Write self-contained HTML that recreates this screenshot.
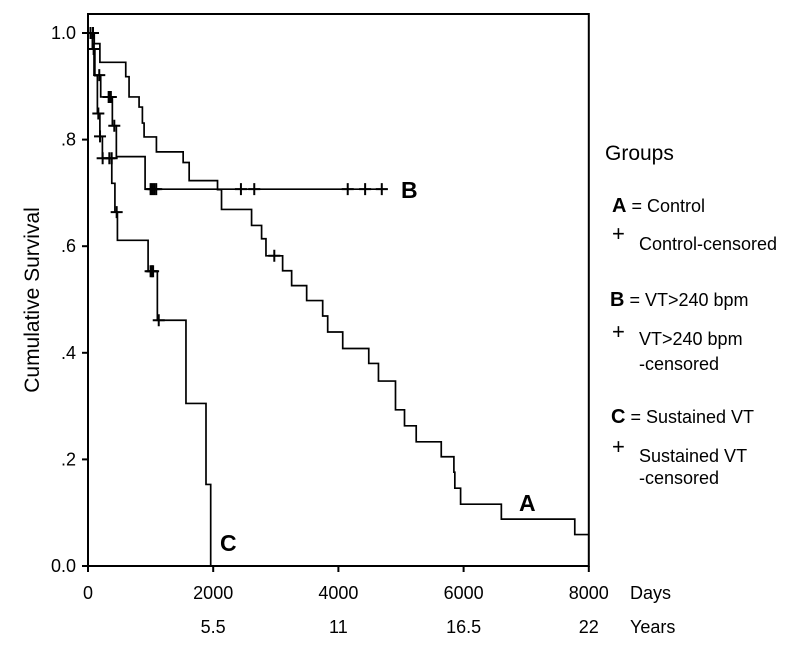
<!DOCTYPE html>
<html><head><meta charset="utf-8"><style>
body{margin:0;background:#fff;}
svg{display:block;font-family:"Liberation Sans",Arial,sans-serif;}
</style></head><body>
<svg id="chart" width="800" height="650" viewBox="0 0 800 650">
<rect x="0" y="0" width="800" height="650" fill="#fff"/>
<g id="marks"></g>
<g id="axes"></g>
<text transform="translate(39,300) rotate(-90)" text-anchor="middle" font-size="21">Cumulative Survival</text>
<text x="401" y="198" font-size="23" font-weight="bold">B</text>
<text x="519" y="511" font-size="23" font-weight="bold">A</text>
<text x="220" y="551" font-size="23" font-weight="bold">C</text>
<text x="630" y="599" font-size="18">Days</text>
<text x="630" y="633" font-size="18">Years</text>
<g font-size="18">
<text x="605" y="160" font-size="21">Groups</text>
<text x="612" y="212"><tspan font-weight="bold" font-size="20">A</tspan> = Control</text>
<text x="612" y="241" font-size="22">+</text>
<text x="639" y="250">Control-censored</text>
<text x="610" y="306"><tspan font-weight="bold" font-size="20">B</tspan> = VT&gt;240 bpm</text>
<text x="612" y="339" font-size="22">+</text>
<text x="639" y="345">VT&gt;240 bpm</text>
<text x="639" y="370">-censored</text>
<text x="611" y="423"><tspan font-weight="bold" font-size="20">C</tspan> = Sustained VT</text>
<text x="612" y="454" font-size="22">+</text>
<text x="639" y="462">Sustained VT</text>
<text x="639" y="484">-censored</text>
</g>
</svg>
<script>
const xTicks=[0,2000,4000,6000,8000];
const yearLabels=["","5.5","11","16.5","22"];
const yTicks=[0,0.2,0.4,0.6,0.8,1.0];
const yTickLabels=["0.0",".2",".4",".6",".8","1.0"];
const aTimes=[0,100,190,603,656,816,869,896,1093,1520,1616,2069,2133,2613,2773,2843,3109,3253,3493,3749,3829,4069,4485,4640,4912,5056,5243,5643,5845,5860,5952,6603,7776];
const aSurv=[1,0.98,0.945,0.918,0.88,0.861,0.831,0.805,0.777,0.757,0.723,0.706,0.669,0.639,0.614,0.582,0.554,0.526,0.498,0.469,0.439,0.408,0.380,0.347,0.293,0.263,0.233,0.205,0.176,0.146,0.116,0.088,0.059];
const aEnd=8000;
const aCensT=[40,2976];
const bTimes=[0,96,203,389,453,912];
const bSurv=[1,0.921,0.88,0.826,0.768,0.707];
const bEnd=4789;
const bCensT=[80,180,330,347,365,420,1000,1030,1060,1090,2443,2656,4149,4427,4693];
const cTimes=[0,70,110,150,190,230,380,430,470,960,1108,1565,1885,1960];
const cSurv=[1,0.97,0.92,0.849,0.806,0.765,0.718,0.664,0.611,0.553,0.461,0.305,0.153,0];
const cEnd=1960;
const cCensT=[90,165,192,234,341,378,458,1000,1020,1040,1130];
const NS='http://www.w3.org/2000/svg';
const X=d=>88+d*0.0626;
const Y=v=>566-v*533;
const marks=document.getElementById('marks');
const axes=document.getElementById('axes');
function mk(tag,attrs,parent){const e=document.createElementNS(NS,tag);for(const k in attrs)e.setAttribute(k,attrs[k]);parent.appendChild(e);return e;}
function survAt(ts,ss,t){let v=ss[0];for(let i=0;i<ts.length;i++){if(ts[i]<=t)v=ss[i];}return v;}
function drawCurve(name,ts,ss,end,cens){
  let d='M'+X(ts[0])+','+Y(ss[0]);
  for(let i=1;i<ts.length;i++){d+=' H'+X(ts[i])+' V'+Y(ss[i]);}
  d+=' H'+X(end);
  const p=mk('path',{d:d,fill:'none',stroke:'#000','stroke-width':1.7},marks);
  
  
  cens.forEach(t=>{
    const v=survAt(ts,ss,t);
    const c=mk('path',{d:'M'+(X(t)-6)+','+Y(v)+' h12 M'+X(t)+','+(Y(v)-6)+' v12',stroke:'#000','stroke-width':2},marks);
    
    
  });
}
drawCurve('group-a',aTimes,aSurv,aEnd,aCensT);
drawCurve('group-b',bTimes,bSurv,bEnd,bCensT);
drawCurve('group-c',cTimes,cSurv,cEnd,cCensT);
const frame=mk('rect',{x:X(0),y:14,width:X(8000)-X(0),height:566-14,fill:'none',stroke:'#000','stroke-width':2},axes);


xTicks.forEach((t,i)=>{
  const l=mk('line',{x1:X(t),x2:X(t),y1:566,y2:572,stroke:'#000','stroke-width':2},axes);
  
  
  const tx=mk('text',{x:X(t),y:599,'text-anchor':'middle','font-size':18},axes);
  tx.textContent=String(t);
  
  
  if(yearLabels[i]){
    const ty=mk('text',{x:X(t),y:633,'text-anchor':'middle','font-size':18},axes);
    ty.textContent=yearLabels[i];
    
    
  }
});
yTicks.forEach((v,i)=>{
  const l=mk('line',{x1:X(0)-6,x2:X(0),y1:Y(v),y2:Y(v),stroke:'#000','stroke-width':2},axes);
  
  
  const tx=mk('text',{x:76,y:Y(v)+6,'text-anchor':'end','font-size':18},axes);
  tx.textContent=yTickLabels[i];
  
  
});
</script>
</body></html>
